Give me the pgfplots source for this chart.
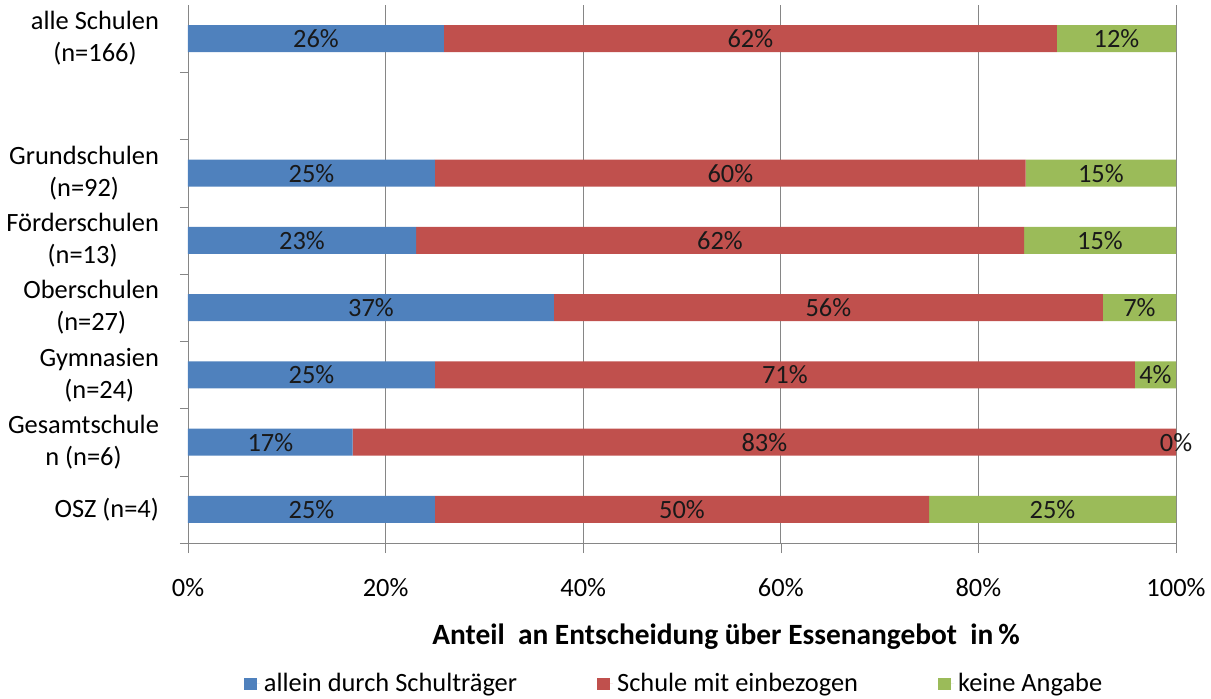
\documentclass[border=0pt]{standalone}
\usepackage{pgfplots}
\pgfplotsset{compat=1.18}
\usepackage{pgfplotstable}
\usepackage{fontspec}
\setmainfont{Carlito}
\definecolor{cblue}{HTML}{4F81BD}
\definecolor{cred}{HTML}{C0504D}
\definecolor{cgreen}{HTML}{9BBB59}
\definecolor{axgray}{HTML}{868686}
\pgfplotstableread{
y a b c
7 25.90 62.05 12.05
5 25.00 59.78 15.22
4 23.08 61.54 15.38
3 37.04 55.56 7.40
2 25.00 70.83 4.17
1 16.67 83.33 0.00
0 25.00 50.00 25.00
}\data
\pgfplotsset{
  common/.style={
    scale only axis, width=494pt, height=269pt,
    xmin=0, xmax=100, ymin=-0.5, ymax=7.5,
    at={(0,0)}, anchor=south west,
    font=\fontsize{13.2}{16}\selectfont,
    /pgf/number format/assume math mode=true,
  }
}
\begin{document}
\begin{tikzpicture}
\useasboundingbox (-94pt,-77.5pt) rectangle (511.5pt,271.5pt);
\begin{axis}[common,
  xbar stacked, bar width=13.5pt,
  axis lines*=left,
  axis line style={axgray},
  xtick={0,20,...,100},
  xticklabels={0\%,20\%,40\%,60\%,80\%,100\%},
  xmajorgrids, grid style={axgray},
  tick align=outside,
  major tick length=5pt,
  major x tick style={axgray},
  major y tick style={draw=none},
  minor ytick={-0.5,0.5,...,6.5},
  minor tick length=4pt,
  minor y tick style={axgray},
  ytick={0,1,2,3,4,5,7},
  yticklabels={{OSZ (n=4)},{Gesamtschule\\n (n=6)},{Gymnasien\\(n=24)},{Oberschulen\\(n=27)},{Förderschulen\\(n=13)},{Grundschulen\\(n=92)},{alle Schulen\\(n=166)}},
  yticklabel style={align=center, xshift=-6pt},
  xticklabel style={yshift=-9pt},
  xlabel={\fontsize{14.7}{17}\selectfont\bfseries Anteil\ \ an Entscheidung über Essenangebot\ \ in\,\%},
  xlabel style={xshift=22pt, yshift=-7pt},
  legend style={at={(0.493,-0.262)}, anchor=center, draw=none, legend columns=-1,
    font=\fontsize{13.2}{16}\selectfont,
    /tikz/every even column/.append style={column sep=38pt}},
  legend image code/.code={\fill[#1] (0pt,-3.2pt) rectangle (6.4pt,3.2pt); \path (0pt,0pt) -- (8pt,0pt);},
]
\addplot[fill=cblue, draw=none] table[x=a, y=y] {\data};
\addplot[fill=cred, draw=none] table[x=b, y=y] {\data};
\addplot[fill=cgreen, draw=none] table[x=c, y=y] {\data};
\legend{allein durch Schulträger, Schule mit einbezogen, keine Angabe}
\end{axis}
\begin{axis}[common, hide axis,
  nodes near coords={\pgfmathprintnumber[fixed,precision=0]{\pgfplotspointmeta}\%},
  nodes near coords align={center},
  every node near coord/.append style={font=\fontsize{13.2}{16}\selectfont, text=black!90, inner sep=0pt},
  point meta=explicit,
]
\addplot[only marks, mark=none] table[x expr=\thisrow{a}/2, y=y, meta=a] {\data};
\addplot[only marks, mark=none] table[x expr=\thisrow{a}+\thisrow{b}/2, y=y, meta=b] {\data};
\addplot[only marks, mark=none] table[x expr=\thisrow{a}+\thisrow{b}+\thisrow{c}/2, y=y, meta=c] {\data};
\end{axis}
\end{tikzpicture}
\end{document}
